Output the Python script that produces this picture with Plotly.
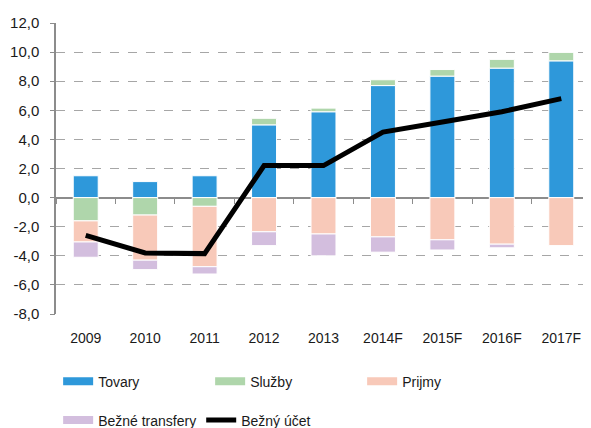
import plotly.graph_objects as go

categories = ["2009", "2010", "2011", "2012", "2013", "2014F", "2015F", "2016F", "2017F"]
tovary = [1.5, 1.1, 1.5, 5.0, 5.9, 7.7, 8.35, 8.9, 9.4]
sluzby = [-1.6, -1.2, -0.6, 0.45, 0.25, 0.4, 0.45, 0.6, 0.6]
prijmy = [-1.45, -3.1, -4.15, -2.35, -2.5, -2.7, -2.9, -3.2, -3.3]
transfery = [-1.05, -0.65, -0.5, -0.95, -1.5, -1.05, -0.7, -0.25, 0.0]
bezny_ucet = [-2.6, -3.8, -3.85, 2.2, 2.2, 4.5, 5.2, 5.9, 6.8]

ytick_vals = [-8, -6, -4, -2, 0, 2, 4, 6, 8, 10, 12]
ytick_text = ["-8,0", "-6,0", "-4,0", "-2,0", "0,0", "2,0", "4,0", "6,0", "8,0", "10,0", "12,0"]

c_tov = "#2E98DA"
c_slu = "#AFD6AB"
c_pri = "#F8C9B9"
c_tra = "#D3BEDE"
grid = "#A6A6A6"
axis_c = "#8C8C8C"
font_fam = "Liberation Sans, Arial, sans-serif"

fig = go.Figure()
series = [("Tovary", tovary, c_tov, "legend"), ("Služby", sluzby, c_slu, "legend"),
          ("Prijmy", prijmy, c_pri, "legend"), ("Bežné transfery", transfery, c_tra, "legend2")]
for name, vals, col, lg in series:
    fig.add_trace(go.Bar(x=categories, y=vals, name=name, marker=dict(color=col, line=dict(color="white", width=1)),
                         showlegend=False, legendgroup=name))
fig.add_trace(go.Scatter(x=categories, y=bezny_ucet, mode="lines", name="Bežný účet",
                         line=dict(color="black", width=5), showlegend=False))

# legend entries
for name, vals, col, lg in series:
    fig.add_trace(go.Scatter(x=[None], y=[None], mode="lines", name=name, legend=lg,
                             line=dict(color=col, width=8), legendgroup=name))
fig.add_trace(go.Scatter(x=[None], y=[None], mode="lines", name="Bežný účet", legend="legend2",
                         line=dict(color="black", width=5)))

# helper axes: tick marks on the zero line and on the value axis
fig.add_trace(go.Scatter(x=categories, y=[None] * len(categories), xaxis="x2", mode="lines",
                         showlegend=False, hoverinfo="skip"))
fig.add_trace(go.Scatter(x=categories, y=[None] * len(categories), yaxis="y2", mode="lines",
                         showlegend=False, hoverinfo="skip"))

fig.update_layout(
    width=583, height=420,
    margin=dict(l=48, r=0, t=15, b=114, autoexpand=False),
    plot_bgcolor="white", paper_bgcolor="white",
    barmode="relative", bargap=0.58,
    font=dict(family=font_fam, size=14, color="#1a1a1a"),
    xaxis=dict(type="category", range=[-0.5, 8.5], showgrid=False, showline=False, zeroline=False,
               ticks="", ticklabelstandoff=14, automargin=False, tickfont=dict(family=font_fam, size=14)),
    xaxis2=dict(type="category", overlaying="x", anchor="free", position=0.4, range=[-0.5, 8.5],
                showgrid=False, showline=False, zeroline=False, showticklabels=False, automargin=False,
                tickson="boundaries", ticks="outside", ticklen=5, tickcolor=axis_c, tickwidth=1),
    yaxis=dict(range=[-8, 12], tickvals=ytick_vals, ticktext=ytick_text, showgrid=True, automargin=False,
               gridcolor=grid, griddash="dash", gridwidth=1, zeroline=True, zerolinecolor=axis_c,
               zerolinewidth=1.5, showline=True, linecolor=axis_c, linewidth=1.5,
               ticks="", ticklabelstandoff=12,
               tickfont=dict(family=font_fam, size=15)),
    yaxis2=dict(range=[-8, 12], overlaying="y", tickvals=ytick_vals, showticklabels=False, showgrid=False,
                zeroline=False, showline=False, automargin=False,
                ticks="outside", ticklen=5, tickcolor=axis_c, tickwidth=1),
    legend=dict(orientation="h", x=0.004, xanchor="left", y=-0.2326, yanchor="middle",
                entrywidth=107, font=dict(family=font_fam, size=14), bgcolor="rgba(0,0,0,0)"),
    legend2=dict(orientation="h", x=0.004, xanchor="left", y=-0.366, yanchor="middle",
                 font=dict(family=font_fam, size=14), bgcolor="rgba(0,0,0,0)"),
)

fig.write_html("out.html")
